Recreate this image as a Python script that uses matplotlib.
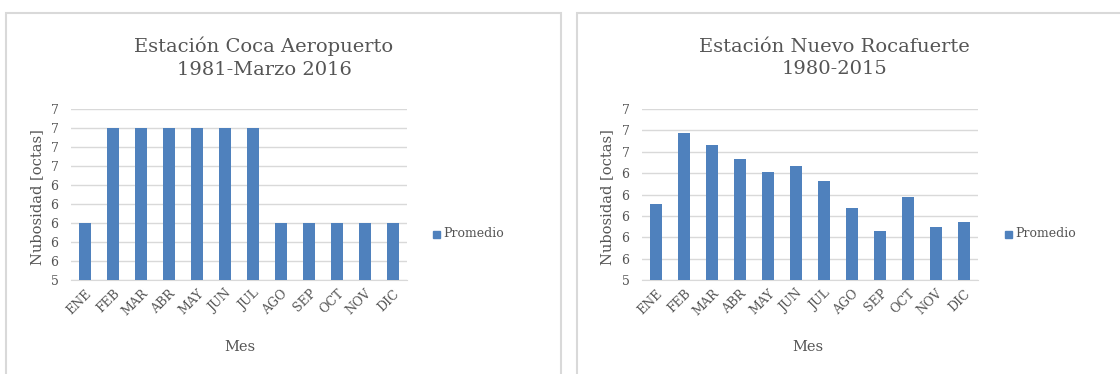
import matplotlib.pyplot as plt
from matplotlib.patches import Rectangle
from matplotlib.ticker import FuncFormatter, MultipleLocator
import numpy as np

# Datos
meses = ['ENE', 'FEB', 'MAR', 'ABR', 'MAY', 'JUN', 'JUL', 'AGO', 'SEP', 'OCT', 'NOV', 'DIC']
coca = [6.0, 7.0, 7.0, 7.0, 7.0, 7.0, 7.0, 6.0, 6.0, 6.0, 6.0, 6.0]
rocafuerte = [6.11, 6.78, 6.66, 6.53, 6.41, 6.47, 6.33, 6.07, 5.86, 6.18, 5.90, 5.94]

titulos = ['Estación Coca Aeropuerto\n1981-Marzo 2016', 'Estación Nuevo Rocafuerte\n1980-2015']
limites = [(5.4, 7.2), (5.4, 7.0)]

azul = '#4f81bd'
gris_texto = '#555555'
gris_linea = '#d9d9d9'
fuente = 'DejaVu Serif'

fig = plt.figure(figsize=(11.2, 3.74), dpi=100)
W, H = 1120, 374

# Marcos de cada grafico
for x0, x1 in [(6, 561), (577, 1126)]:
    fig.patches.append(Rectangle((x0 / W, -0.05), (x1 - x0) / W, 1.05 - 13 / H,
                                 transform=fig.transFigure, fill=False,
                                 edgecolor=gris_linea, lw=1.5))

paneles = [
    (71, coca, 264, 37, 240, 433),
    (642, rocafuerte, 834, 607, 808, 1005),
]

for i, (x_ax, datos, x_tit, x_ylab, x_mes, x_leg) in enumerate(paneles):
    ax = fig.add_axes([x_ax / W, 1 - 280 / H, 336 / W, 171 / H])
    x = np.arange(len(meses))
    ax.bar(x, datos, width=0.4, color=azul, zorder=3, label='Promedio')
    ax.set_xlim(-0.5, len(meses) - 0.5)
    ax.set_ylim(*limites[i])
    ax.yaxis.set_major_locator(MultipleLocator(0.2))
    ax.yaxis.set_major_formatter(FuncFormatter(lambda v, p: f'{v:.0f}'))
    ax.set_xticks(x)
    ax.set_xticklabels(meses, rotation=45, ha='right', rotation_mode='anchor',
                       fontsize=9, family=fuente, color=gris_texto)
    for t in ax.get_yticklabels():
        t.set_fontsize(9)
        t.set_family(fuente)
        t.set_color(gris_texto)
    ax.tick_params(axis='x', length=0, pad=5)
    ax.tick_params(axis='y', length=0, pad=9)
    ax.grid(axis='y', color=gris_linea, lw=1, zorder=0)
    for s in ['top', 'right', 'left']:
        ax.spines[s].set_visible(False)
    ax.spines['bottom'].set_color(gris_linea)

    fig.text(x_tit / W, 1 - 58 / H, titulos[i], ha='center', va='center',
             fontsize=14, family=fuente, color=gris_texto, linespacing=1.35)
    fig.text(x_ylab / W, 1 - 197 / H, 'Nubosidad [octas]', rotation=90,
             ha='center', va='center', fontsize=10.5, family=fuente, color=gris_texto)
    fig.text(x_mes / W, 1 - 347 / H, 'Mes', ha='center', va='center',
             fontsize=10.5, family=fuente, color=gris_texto)

    # Leyenda
    fig.patches.append(Rectangle((x_leg / W, 1 - 238 / H), 7 / W, 7 / H,
                                 transform=fig.transFigure, color=azul))
    fig.text((x_leg + 10) / W, 1 - 234 / H, 'Promedio', ha='left', va='center',
             fontsize=9, family=fuente, color=gris_texto)

fig.savefig('out.png', dpi=100)
